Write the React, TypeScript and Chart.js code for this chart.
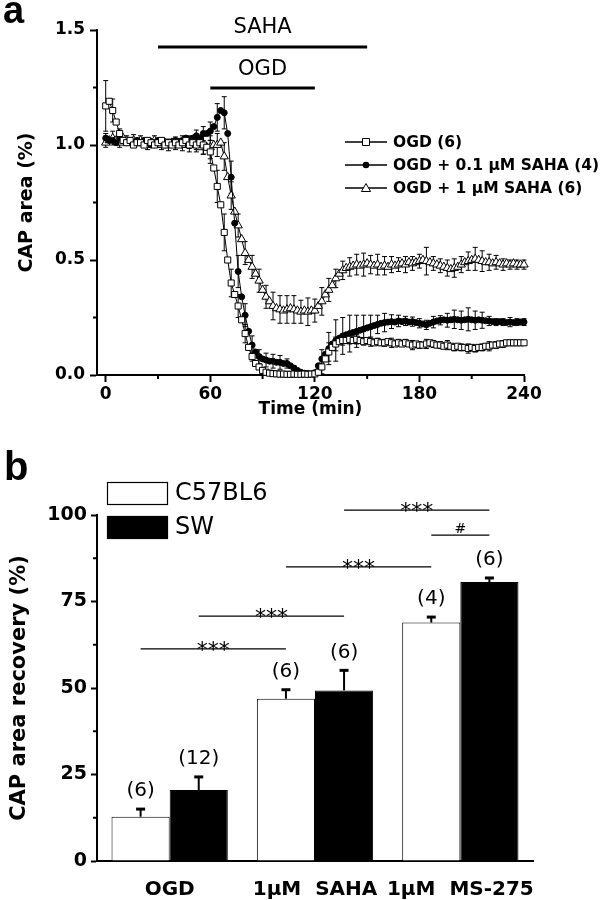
import React, { useEffect, useRef } from 'react';
import { Chart, registerables } from 'chart.js';

Chart.register(...registerables);

// ---------- Panel a data ----------
const TIME = [
  0, 2, 4, 6, 8, 10, 12, 14, 16, 18,
  20, 22, 24, 26, 28, 30, 32, 34, 36, 38,
  40, 42, 44, 46, 48, 50, 52, 54, 56, 58,
  60, 62, 64, 66, 68, 70, 72, 74, 76, 78,
  80, 82, 84, 86, 88, 90, 92, 94, 96, 98,
  100, 102, 104, 106, 108, 110, 112, 114, 116, 118,
  120, 122, 124, 126, 128, 130, 132, 134, 136, 138,
  140, 142, 144, 146, 148, 150, 152, 154, 156, 158,
  160, 162, 164, 166, 168, 170, 172, 174, 176, 178,
  180, 182, 184, 186, 188, 190, 192, 194, 196, 198,
  200, 202, 204, 206, 208, 210, 212, 214, 216, 218,
  220, 222, 224, 226, 228, 230, 232, 234, 236, 238,
  240,
];

const OGD_ONLY = [
  1.17, 1.19, 1.15, 1.10, 1.05, 1.02, 1.01, 1.02, 1.00, 1.01,
  1.01, 1.00, 1.02, 1.01, 1.00, 1.01, 1.02, 1.00, 1.01, 1.00,
  1.01, 1.00, 1.01, 1.02, 1.00, 1.01, 1.00, 1.01, 1.00, 0.99,
  0.97, 0.90, 0.82, 0.74, 0.62, 0.50, 0.40, 0.35, 0.30, 0.24,
  0.18, 0.12, 0.08, 0.05, 0.035, 0.02, 0.012, 0.008, 0.006, 0.005,
  0.004, 0.004, 0.003, 0.003, 0.004, 0.003, 0.003, 0.004, 0.003, 0.004,
  0.005, 0.012, 0.035, 0.07, 0.10, 0.12, 0.135, 0.145, 0.15, 0.15,
  0.155, 0.15, 0.155, 0.15, 0.145, 0.15, 0.145, 0.14, 0.145, 0.14,
  0.14, 0.145, 0.14, 0.135, 0.14, 0.135, 0.14, 0.135, 0.13, 0.135,
  0.13, 0.13, 0.135, 0.14, 0.135, 0.13, 0.13, 0.125, 0.13, 0.125,
  0.12, 0.125, 0.12, 0.12, 0.115, 0.12, 0.115, 0.12, 0.12, 0.125,
  0.125, 0.13, 0.13, 0.135, 0.135, 0.14, 0.14, 0.14, 0.14, 0.14,
  0.14,
];

const SAHA_01 = [
  1.03, 1.02, 1.02, 1.01, 1.03, 1.02, 1.01, 1.02, 1.01, 1.02,
  1.01, 1.02, 1.01, 1.00, 1.01, 1.02, 1.01, 1.00, 1.01, 1.01,
  1.02, 1.01, 1.02, 1.03, 1.02, 1.03, 1.04, 1.03, 1.05, 1.05,
  1.06, 1.08, 1.12, 1.15, 1.14, 1.05, 0.86, 0.66, 0.45, 0.34,
  0.26, 0.19, 0.13, 0.10, 0.08, 0.07, 0.065, 0.06, 0.06, 0.055,
  0.055, 0.05, 0.05, 0.04, 0.03, 0.02, 0.012, 0.008, 0.006, 0.005,
  0.01, 0.04, 0.07, 0.09, 0.115, 0.135, 0.15, 0.16, 0.17, 0.175,
  0.18, 0.185, 0.19, 0.195, 0.2, 0.205, 0.21, 0.215, 0.22, 0.225,
  0.228, 0.23, 0.232, 0.23, 0.235, 0.232, 0.235, 0.23, 0.232, 0.228,
  0.225, 0.222, 0.218, 0.225, 0.23, 0.235, 0.238, 0.24, 0.238, 0.24,
  0.242, 0.24, 0.238, 0.24, 0.242, 0.24, 0.238, 0.24, 0.238, 0.236,
  0.235, 0.232, 0.23, 0.232, 0.23, 0.228, 0.23, 0.228, 0.23, 0.23,
  0.23,
];

const SAHA_1 = [
  1.01, 1.02, 1.03, 1.02, 1.01, 1.03, 1.02, 1.01, 1.02, 1.01,
  1.02, 1.01, 1.00, 1.01, 1.02, 1.01, 1.00, 1.01, 1.00, 1.01,
  1.00, 1.01, 1.00, 1.01, 1.00, 1.01, 1.00, 0.99, 1.00, 0.99,
  0.99, 1.00, 1.00, 1.01, 0.95, 0.86, 0.78, 0.71, 0.65, 0.59,
  0.53, 0.50, 0.47, 0.44, 0.41, 0.37, 0.34, 0.32, 0.30, 0.29,
  0.285, 0.28, 0.285, 0.29, 0.285, 0.28, 0.275, 0.28, 0.275, 0.28,
  0.28, 0.30, 0.32, 0.35, 0.37, 0.39, 0.42, 0.44, 0.455, 0.465,
  0.47, 0.475, 0.48, 0.475, 0.48, 0.485, 0.48, 0.475, 0.48, 0.47,
  0.475, 0.47, 0.48, 0.475, 0.48, 0.485, 0.48, 0.49, 0.485, 0.49,
  0.495, 0.5, 0.495, 0.49, 0.485, 0.48, 0.475, 0.47, 0.465, 0.46,
  0.465, 0.47, 0.48, 0.49, 0.495, 0.5, 0.505, 0.5, 0.495, 0.49,
  0.49, 0.485, 0.49, 0.485, 0.48, 0.485, 0.48, 0.485, 0.48, 0.48,
  0.48,
];

// error bars (SEM), one every ERR_STRIDE samples (every 4 min)
const ERR_STRIDE = 2;
const ERR_OGD_ONLY = [
  0.11, 0.05, 0.02, 0.01, 0.01, 0.01, 0.01, 0.01, 0.01, 0.01,
  0.01, 0.01, 0.015, 0.02, 0.04, 0.05, 0.07, 0.08, 0.06, 0.05,
  0.04, 0.02, 0.01, 0.005, 0.005, 0.005, 0.005, 0.005, 0.005, 0.005,
  0.005, 0.03, 0.04, 0.03, 0.02, 0.02, 0.02, 0.015, 0.02, 0.015,
  0.015, 0.02, 0.015, 0.015, 0.02, 0.015, 0.02, 0.015, 0.015, 0.02,
  0.015, 0.015, 0.02, 0.015, 0.015, 0.02, 0.015, 0.015, 0.01, 0.01,
  0.01,
];
const ERR_SAHA_01 = [
  0.02, 0.01, 0.015, 0.01, 0.015, 0.01, 0.01, 0.015, 0.01, 0.015,
  0.015, 0.02, 0.02, 0.025, 0.03, 0.04, 0.06, 0.07, 0.07, 0.07,
  0.05, 0.04, 0.03, 0.03, 0.03, 0.03, 0.02, 0.01, 0.005, 0.005,
  0.01, 0.04, 0.07, 0.09, 0.08, 0.08, 0.07, 0.06, 0.05, 0.04,
  0.04, 0.03, 0.025, 0.02, 0.02, 0.02, 0.02, 0.025, 0.02, 0.03,
  0.04, 0.04, 0.05, 0.04, 0.035, 0.02, 0.015, 0.015, 0.02, 0.015,
  0.015,
];
const ERR_SAHA_1 = [
  0.02, 0.03, 0.02, 0.02, 0.025, 0.02, 0.02, 0.02, 0.02, 0.025,
  0.02, 0.025, 0.03, 0.03, 0.04, 0.05, 0.05, 0.06, 0.06, 0.05,
  0.05, 0.05, 0.05, 0.05, 0.06, 0.06, 0.06, 0.06, 0.05, 0.06,
  0.05, 0.06, 0.05, 0.04, 0.04, 0.04, 0.045, 0.05, 0.04, 0.045,
  0.04, 0.035, 0.03, 0.035, 0.03, 0.03, 0.06, 0.03, 0.03, 0.035,
  0.04, 0.035, 0.04, 0.05, 0.045, 0.035, 0.03, 0.025, 0.02, 0.02,
  0.02,
];

const SERIES_A = ['OGD (6)', 'OGD + 0.1 \u03bcM SAHA (4)', 'OGD + 1 \u03bcM SAHA (6)'];
const PERIOD_NAMES = ['SAHA', 'OGD'];
const PERIOD_START = [30, 60];
const PERIOD_END = [150, 120];
const X_TICKS_A = [0, 60, 120, 180, 240];
const X_MINOR_A = [30, 90, 150, 210];
const Y_TICKS_A = [0, 0.5, 1.0, 1.5];
const Y_MINOR_A = [0.25, 0.75, 1.25];

// ---------- Panel b data ----------
const GROUPS = ['OGD', '1\u03bcM  SAHA', '1\u03bcM  MS-275'];
const STRAINS = ['C57BL6', 'SW'];
const C57 = [12.8, 46.9, 68.9];
const C57_ERR = [2.2, 2.6, 1.6];
const C57_N = [6, 6, 4];
const SW = [20.5, 49.3, 80.6];
const SW_ERR = [3.8, 5.8, 1.2];
const SW_N = [12, 6, 6];
const Y_MINOR_B = [12.5, 37.5, 62.5, 87.5];
// significance brackets: [dataset, category] -> [dataset, category]
const SIG_FROM = [[0, 0], [1, 0], [0, 1], [1, 1], [0, 2]];
const SIG_TO = [[0, 1], [1, 1], [0, 2], [1, 2], [1, 2]];
const SIG_LEVEL = [61.3, 70.8, 85.0, 101.4, 94.2];
const SIG_TEXT = ['***', '***', '***', '***', '#'];

const FONT = "'DejaVu Sans', sans-serif";
const LETTER_FONT = "'Liberation Sans', Arial, sans-serif";

// placement of decorations in panel a (value levels)
const PERIOD_LINE_LEVEL = [1.426, 1.248];
const PERIOD_TEXT_LEVEL = [1.512, 1.33];

function drawMarker(ctx: CanvasRenderingContext2D, kind: number, x: number, y: number) {
  ctx.save();
  ctx.lineWidth = 1;
  ctx.strokeStyle = '#000';
  ctx.beginPath();
  if (kind === 0) {
    ctx.rect(x - 3.5, y - 3.5, 7, 7);
    ctx.fillStyle = '#fff';
    ctx.fill();
    ctx.stroke();
  } else if (kind === 1) {
    ctx.arc(x, y, 3.3, 0, Math.PI * 2);
    ctx.fillStyle = '#000';
    ctx.fill();
  } else {
    ctx.moveTo(x, y - 4.5);
    ctx.lineTo(x + 4.6, y + 3.5);
    ctx.lineTo(x - 4.6, y + 3.5);
    ctx.closePath();
    ctx.fillStyle = '#fff';
    ctx.fill();
    ctx.stroke();
  }
  ctx.restore();
}

const panelAPlugin = {
  id: 'panelADecor',
  beforeDatasetsDraw(chart: any) {
    const { ctx } = chart;
    const xs = chart.scales.x;
    const ys = chart.scales.y;
    const vals = [OGD_ONLY, SAHA_01, SAHA_1];
    const errs = [ERR_OGD_ONLY, ERR_SAHA_01, ERR_SAHA_1];
    ctx.save();
    ctx.strokeStyle = '#000';
    ctx.lineWidth = 1;
    for (let d = 0; d < vals.length; d++) {
      for (let k = 0; k < errs[d].length; k++) {
        const i = k * ERR_STRIDE;
        if (i >= TIME.length) break;
        const x = xs.getPixelForValue(TIME[i]);
        const v = vals[d][i];
        const e = errs[d][k];
        const y1 = ys.getPixelForValue(v + e);
        const y2 = ys.getPixelForValue(Math.max(v - e, -0.005));
        ctx.beginPath();
        ctx.moveTo(x, y1);
        ctx.lineTo(x, y2);
        ctx.moveTo(x - 2.5, y1);
        ctx.lineTo(x + 2.5, y1);
        ctx.moveTo(x - 2.5, y2);
        ctx.lineTo(x + 2.5, y2);
        ctx.stroke();
      }
    }
    ctx.restore();
  },
  afterDraw(chart: any) {
    const { ctx, chartArea } = chart;
    const xs = chart.scales.x;
    const ys = chart.scales.y;
    ctx.save();
    ctx.strokeStyle = '#000';
    ctx.fillStyle = '#000';
    // minor ticks
    ctx.lineWidth = 2;
    ctx.beginPath();
    X_MINOR_A.forEach((v) => {
      const x = xs.getPixelForValue(v);
      ctx.moveTo(x, chartArea.bottom);
      ctx.lineTo(x, chartArea.bottom + 4);
    });
    Y_MINOR_A.forEach((v) => {
      const y = ys.getPixelForValue(v);
      ctx.moveTo(chartArea.left, y);
      ctx.lineTo(chartArea.left - 4, y);
    });
    ctx.stroke();
    // treatment periods
    for (let p = 0; p < PERIOD_NAMES.length; p++) {
      const x1 = xs.getPixelForValue(PERIOD_START[p]);
      const x2 = xs.getPixelForValue(PERIOD_END[p]);
      const y = ys.getPixelForValue(PERIOD_LINE_LEVEL[p]);
      ctx.lineWidth = 3;
      ctx.beginPath();
      ctx.moveTo(x1, y);
      ctx.lineTo(x2, y);
      ctx.stroke();
      ctx.font = `21px ${FONT}`;
      ctx.textAlign = 'center';
      ctx.textBaseline = 'middle';
      ctx.fillText(PERIOD_NAMES[p], (x1 + x2) / 2, ys.getPixelForValue(PERIOD_TEXT_LEVEL[p]));
    }
    // legend
    const rows = [142, 165, 188];
    SERIES_A.forEach((label, i) => {
      const y = rows[i];
      ctx.lineWidth = 1.3;
      ctx.beginPath();
      ctx.moveTo(345, y);
      ctx.lineTo(387, y);
      ctx.stroke();
      drawMarker(ctx, i, 366, y);
      ctx.fillStyle = '#000';
      ctx.font = `bold 15.5px ${FONT}`;
      ctx.textAlign = 'left';
      ctx.textBaseline = 'middle';
      ctx.fillText(label, 393, y + 1);
    });
    // panel letter
    ctx.font = `bold 38px ${LETTER_FONT}`;
    ctx.textAlign = 'left';
    ctx.textBaseline = 'alphabetic';
    ctx.fillText('a', 3, 23);
    ctx.restore();
  },
};

const panelBPlugin = {
  id: 'panelBDecor',
  afterDraw(chart: any) {
    const { ctx, chartArea } = chart;
    const ys = chart.scales.y;
    const vals = [C57, SW];
    const errs = [C57_ERR, SW_ERR];
    const ns = [C57_N, SW_N];
    ctx.save();
    ctx.strokeStyle = '#000';
    ctx.fillStyle = '#000';
    // minor ticks
    ctx.lineWidth = 2;
    ctx.beginPath();
    Y_MINOR_B.forEach((v) => {
      const y = ys.getPixelForValue(v);
      ctx.moveTo(chartArea.left, y);
      ctx.lineTo(chartArea.left - 4, y);
    });
    ctx.stroke();
    // error bars and n labels
    for (let d = 0; d < 2; d++) {
      const meta = chart.getDatasetMeta(d);
      meta.data.forEach((bar: any, i: number) => {
        const x = bar.x;
        const yTop = ys.getPixelForValue(vals[d][i]);
        const yErr = ys.getPixelForValue(vals[d][i] + errs[d][i]);
        ctx.lineWidth = 2;
        ctx.beginPath();
        ctx.moveTo(x, yTop);
        ctx.lineTo(x, yErr);
        ctx.stroke();
        ctx.lineWidth = 3;
        ctx.beginPath();
        ctx.moveTo(x - 4.5, yErr);
        ctx.lineTo(x + 4.5, yErr);
        ctx.stroke();
        ctx.font = `20px ${FONT}`;
        ctx.textAlign = 'center';
        ctx.textBaseline = 'middle';
        ctx.fillText(`(${ns[d][i]})`, x, yErr - 18);
      });
    }
    // significance brackets
    for (let s = 0; s < SIG_LEVEL.length; s++) {
      const a = chart.getDatasetMeta(SIG_FROM[s][0]).data[SIG_FROM[s][1]];
      const b = chart.getDatasetMeta(SIG_TO[s][0]).data[SIG_TO[s][1]];
      const y = ys.getPixelForValue(SIG_LEVEL[s]);
      ctx.lineWidth = 1.3;
      ctx.beginPath();
      ctx.moveTo(a.x, y);
      ctx.lineTo(b.x, y);
      ctx.stroke();
      ctx.textAlign = 'center';
      ctx.textBaseline = 'alphabetic';
      if (SIG_TEXT[s] === '#') {
        ctx.font = `14px ${FONT}`;
        ctx.fillText(SIG_TEXT[s], (a.x + b.x) / 2, y - 2);
      } else {
        ctx.font = `22px ${FONT}`;
        ctx.fillText(SIG_TEXT[s], (a.x + b.x) / 2, y + 8);
      }
    }
    // legend
    const boxes = [42, 76];
    STRAINS.forEach((name, i) => {
      ctx.lineWidth = 1.2;
      ctx.fillStyle = i === 0 ? '#fff' : '#000';
      ctx.fillRect(107, boxes[i], 61, 23);
      ctx.strokeRect(107.5, boxes[i] + 0.5, 60, 22);
      ctx.fillStyle = '#000';
      ctx.font = `24px ${FONT}`;
      ctx.textAlign = 'left';
      ctx.textBaseline = 'middle';
      ctx.fillText(name, 175, boxes[i] + 12);
    });
    // panel letter
    ctx.font = `bold 40px ${LETTER_FONT}`;
    ctx.textAlign = 'left';
    ctx.textBaseline = 'alphabetic';
    ctx.fillText('b', 4, 40);
    ctx.restore();
  },
};

export default function App() {
  const refA = useRef<HTMLCanvasElement | null>(null);
  const refB = useRef<HTMLCanvasElement | null>(null);

  useEffect(() => {
    if (!refA.current || !refB.current) return;
    const styleA = [
      { style: 'rect', radius: 4.3, bg: '#fff' },
      { style: 'circle', radius: 3.0, bg: '#000' },
      { style: 'triangle', radius: 4.8, bg: '#fff' },
    ];
    const valsA = [OGD_ONLY, SAHA_01, SAHA_1];
    const chartA = new Chart(refA.current, {
      type: 'line',
      data: {
        datasets: valsA.map((vals, d) => ({
          label: SERIES_A[d],
          data: TIME.map((t, i) => ({ x: t, y: vals[i] })),
          borderColor: '#000',
          borderWidth: 1,
          pointStyle: styleA[d].style as any,
          pointRadius: styleA[d].radius,
          pointBackgroundColor: styleA[d].bg,
          pointBorderColor: '#000',
          pointBorderWidth: 1,
          tension: 0,
          clip: false as any,
        })),
      },
      options: {
        animation: false,
        responsive: false,
        layout: { padding: { left: 0, right: 78, top: 30, bottom: 0 } },
        plugins: { legend: { display: false }, tooltip: { enabled: false } },
        scales: {
          x: {
            type: 'linear',
            min: -5,
            max: 240,
            afterBuildTicks: (s: any) => {
              s.ticks = X_TICKS_A.map((v) => ({ value: v }));
            },
            afterFit: (s: any) => {
              s.height = 65;
            },
            border: { display: true, color: '#000', width: 2 },
            grid: { display: true, drawOnChartArea: false, drawTicks: true, tickLength: 7, tickColor: '#000', tickWidth: 2 },
            ticks: { color: '#000', padding: 2, maxRotation: 0, font: { family: FONT, size: 17, weight: 'bold' } },
            title: {
              display: true,
              text: 'Time (min)',
              color: '#000',
              font: { family: FONT, size: 17, weight: 'bold' },
              padding: { top: 0, bottom: 20 },
            },
          },
          y: {
            min: 0,
            max: 1.5,
            afterBuildTicks: (s: any) => {
              s.ticks = Y_TICKS_A.map((v) => ({ value: v }));
            },
            afterFit: (s: any) => {
              s.width = 97;
            },
            border: { display: true, color: '#000', width: 2 },
            grid: { display: true, drawOnChartArea: false, drawTicks: true, tickLength: 7, tickColor: '#000', tickWidth: 2 },
            ticks: {
              color: '#000',
              padding: 5,
              font: { family: FONT, size: 17, weight: 'bold' },
              callback: (v: any) => Number(v).toFixed(1),
            },
            title: {
              display: true,
              text: 'CAP area (%)',
              color: '#000',
              font: { family: FONT, size: 19, weight: 'bold' },
              padding: { top: 16, bottom: 0 },
            },
          },
        },
      } as any,
      plugins: [panelAPlugin],
    });

    const chartB = new Chart(refB.current, {
      type: 'bar',
      data: {
        labels: GROUPS,
        datasets: [
          { label: STRAINS[0], data: C57, backgroundColor: '#fff', borderColor: '#000', borderWidth: 1, categoryPercentage: 0.8, barPercentage: 1.0 },
          { label: STRAINS[1], data: SW, backgroundColor: '#000', borderColor: '#000', borderWidth: 1, categoryPercentage: 0.8, barPercentage: 1.0 },
        ],
      },
      options: {
        animation: false,
        responsive: false,
        layout: { padding: { left: 0, right: 69, top: 75, bottom: 0 } },
        plugins: { legend: { display: false }, tooltip: { enabled: false } },
        scales: {
          x: {
            afterFit: (s: any) => {
              s.height = 39;
            },
            border: { display: true, color: '#000', width: 2 },
            grid: { display: false },
            ticks: { color: '#000', padding: 9, maxRotation: 0, autoSkip: false, font: { family: FONT, size: 20, weight: 'bold' } },
          },
          y: {
            min: 0,
            max: 100,
            afterFit: (s: any) => {
              s.width = 97;
            },
            border: { display: true, color: '#000', width: 2 },
            grid: { display: true, drawOnChartArea: false, drawTicks: true, tickLength: 6, tickColor: '#000', tickWidth: 2 },
            ticks: { stepSize: 25, color: '#000', padding: 4, font: { family: FONT, size: 19, weight: 'bold' } },
            title: {
              display: true,
              text: 'CAP area recovery (%)',
              color: '#000',
              font: { family: FONT, size: 21, weight: 'bold' },
              padding: { top: 7, bottom: 0 },
            },
          },
        },
      } as any,
      plugins: [panelBPlugin],
    });

    return () => {
      chartA.destroy();
      chartB.destroy();
    };
  }, []);

  return (
    <div style={{ position: 'absolute', left: 0, top: 0, width: 602, height: 900, background: '#fff' }}>
      <canvas ref={refA} width={602} height={440} style={{ position: 'absolute', left: 0, top: 0, width: 602, height: 440 }} />
      <canvas ref={refB} width={602} height={460} style={{ position: 'absolute', left: 0, top: 440, width: 602, height: 460 }} />
    </div>
  );
}
